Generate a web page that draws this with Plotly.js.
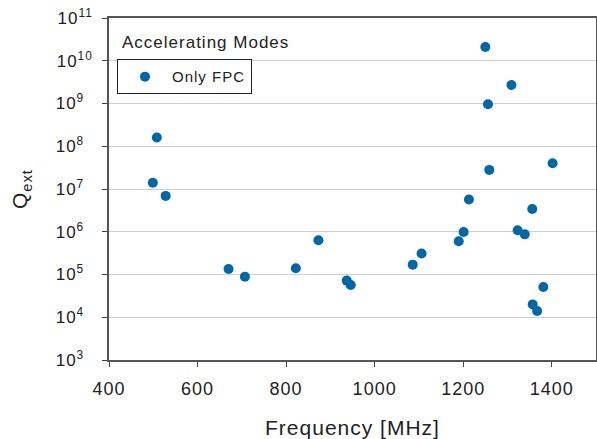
<!DOCTYPE html>
<html>
<head>
<meta charset="utf-8">
<script src="https://cdn.plot.ly/plotly-3.0.1.min.js"></script>
<style>
html,body{margin:0;padding:0;background:#fff;}
#chart{width:597px;height:439px;}
text{letter-spacing:1px;}
</style>
</head>
<body>
<div id="chart"></div>
<script>
const freqMHz = [508, 499, 528, 670, 707, 822, 873, 937, 946, 1086, 1106, 1190, 1201, 1323, 1339, 1357, 1367, 1381, 1250, 1309, 1256, 1402, 1259, 1213, 1356];
const qext = [1.6e8, 1.4e7, 6.9e6, 1.35e5, 8.9e4, 1.4e5, 6.3e5, 7.2e4, 5.7e4, 1.7e5, 3.1e5, 6.0e5, 9.9e5, 1.08e6, 8.7e5, 2.0e4, 1.4e4, 5.1e4, 2.1e10, 2.7e9, 9.6e8, 4.0e7, 2.8e7, 5.7e6, 3.4e6];
const yTickVals = [1e3, 1e4, 1e5, 1e6, 1e7, 1e8, 1e9, 1e10, 1e11];
const yTickExp = ['3', '4', '5', '6', '7', '8', '9', '10', '11'];
const xTickVals = [400, 600, 800, 1000, 1200, 1400];
const seriesName = 'Only FPC';
const legendTitle = 'Accelerating Modes';

// tick labels are left-aligned in the reference: pad short exponents
const yTickText = yTickExp.map(e => '10<sup>' + e + (e.length < 2 ? '\u00a0\u00a0' : '') + '</sup>');

const fam = 'Liberation Sans, Arial, sans-serif';
const font = {family: fam, color: '#222', size: 16};

Plotly.newPlot('chart', [{
  x: freqMHz, y: qext, type: 'scatter', mode: 'markers', name: seriesName,
  marker: {color: '#0068a6', size: 10}
}], {
  width: 597, height: 439,
  margin: {l: 109, r: 1, t: 18, b: 79},
  paper_bgcolor: '#fff', plot_bgcolor: '#fff',
  font: font,
  showlegend: true,
  legend: {x: 0.0164, y: 0.879, xanchor: 'left', yanchor: 'top', bordercolor: '#222', borderwidth: 1, bgcolor: '#fff',
           itemwidth: 44, font: {family: fam, size: 15, color: '#222'}},
  annotations: [{text: legendTitle, xref: 'paper', yref: 'paper', x: 0.022, y: 0.929, xanchor: 'left', yanchor: 'middle', showarrow: false, font: {family: fam, size: 17, color: '#222'}}],
  xaxis: {
    range: [400, 1500], tickvals: xTickVals, ticks: 'outside', ticklen: 5, tickcolor: '#444', ticklabelstandoff: 7,
    showgrid: false, zeroline: false, showline: true, linecolor: '#555', linewidth: 1.5, mirror: true,
    tickfont: {size: 18}, title: {text: 'Frequency [MHz]', font: {size: 21}, standoff: 24}
  },
  yaxis: {
    type: 'log', range: [3, 11], tickvals: yTickVals, ticktext: yTickText, ticks: 'outside', ticklen: 5, tickcolor: '#444', ticklabelstandoff: 6,
    showgrid: true, gridcolor: '#cfcfcf', gridwidth: 1, zeroline: false, showline: true, linecolor: '#555', linewidth: 1.5, mirror: true,
    tickfont: {size: 17}, title: {text: 'Q<sub>ext</sub>', font: {size: 21}, standoff: 22}
  }
}, {displayModeBar: false});
</script>
</body>
</html>
